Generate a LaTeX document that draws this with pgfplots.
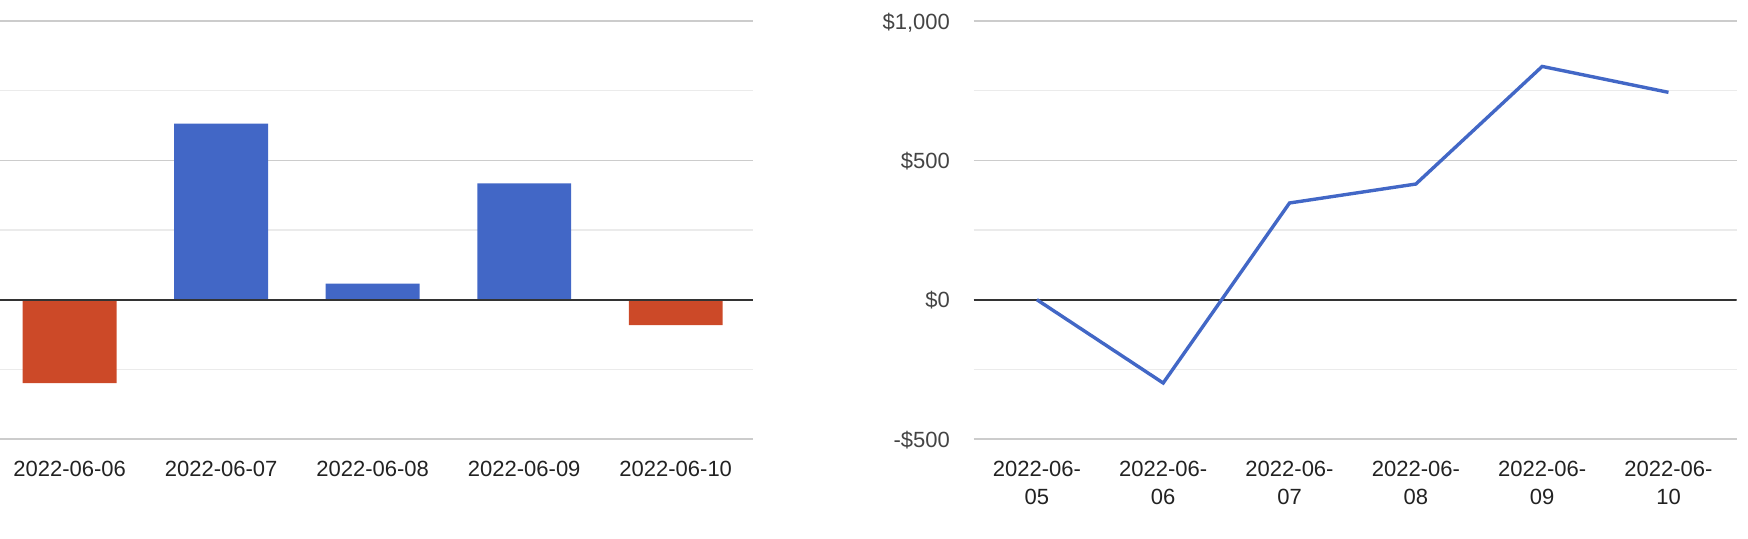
\documentclass[border=0pt]{standalone}
\usepackage{fontspec}
\setmainfont{Liberation Sans}
\usepackage{pgfplots}
\pgfplotsset{compat=1.18}
\definecolor{gblue}{HTML}{4267C6}
\definecolor{gred}{HTML}{CC4928}
\definecolor{gmaj}{HTML}{CCCCCC}
\definecolor{gmin}{HTML}{EBEBEB}
\definecolor{zline}{HTML}{333333}
\definecolor{xlab}{HTML}{222222}
\definecolor{ylab}{HTML}{444444}
\pgfplotsset{
  gstyle/.style={
    scale only axis,
    height=209pt,
    ymin=-500, ymax=1000,
    ytick={-500,0,500,1000},
    minor ytick={-250,250,750},
    ymajorgrids, yminorgrids,
    major grid style={gmaj, line width=0.7pt},
    minor grid style={gmin, line width=0.7pt},
    axis line style={draw=none},
    major tick length=0pt, minor tick length=0pt,
    tick style={draw=none},
    xticklabel style={font=\fontsize{11}{14.2}\selectfont, text=xlab, anchor=north, inner sep=0pt, align=center},
    xticklabel shift=10.8pt,
    yticklabel style={font=\fontsize{11}{14.2}\selectfont, text=ylab, anchor=base east, inner sep=0pt, xshift=-11.7pt, yshift=-4pt},
  }
}
\begin{document}
\begin{tikzpicture}
\path[use as bounding box] (0pt,0pt) rectangle (874pt,-269pt);
% left: daily change bars
\begin{axis}[gstyle,
  at={(0pt,-219.5pt)}, anchor=south west,
  width=376.5pt,
  xmin=-0.46, xmax=4.51,
  xtick={0,1,2,3,4},
  xticklabels={2022-06-06,2022-06-07,2022-06-08,2022-06-09,2022-06-10},
  yticklabels={},
  ybar, bar width=0.62,
]
\addplot[fill=gblue, draw=none, bar shift=0] coordinates {(1,632) (2,58) (3,417)};
\addplot[fill=gred, draw=none, bar shift=0] coordinates {(0,-299) (4,-91)};
\draw[zline, line width=0.85pt] ({rel axis cs:0,0}|-{axis cs:0,0}) -- ({rel axis cs:1,0}|-{axis cs:0,0});
\end{axis}
% right: cumulative line
\begin{axis}[gstyle,
  at={(486.85pt,-219.5pt)}, anchor=south west,
  width=381.5pt,
  xmin=-0.5, xmax=5.54,
  xtick={0,1,2,3,4,5},
  xticklabels={{2022-06-\\05},{2022-06-\\06},{2022-06-\\07},{2022-06-\\08},{2022-06-\\09},{2022-06-\\10}},
  yticklabels={{-\$500},{\$0},{\$500},{\$1,000}},
]
\draw[zline, line width=0.85pt] ({rel axis cs:0,0}|-{axis cs:0,0}) -- ({rel axis cs:1,0}|-{axis cs:0,0});
\addplot[gblue, line width=1.7pt, mark=none] coordinates {(0,0) (1,-299) (2,347) (3,415) (4,837) (5,744)};
\end{axis}
\end{tikzpicture}
\end{document}
